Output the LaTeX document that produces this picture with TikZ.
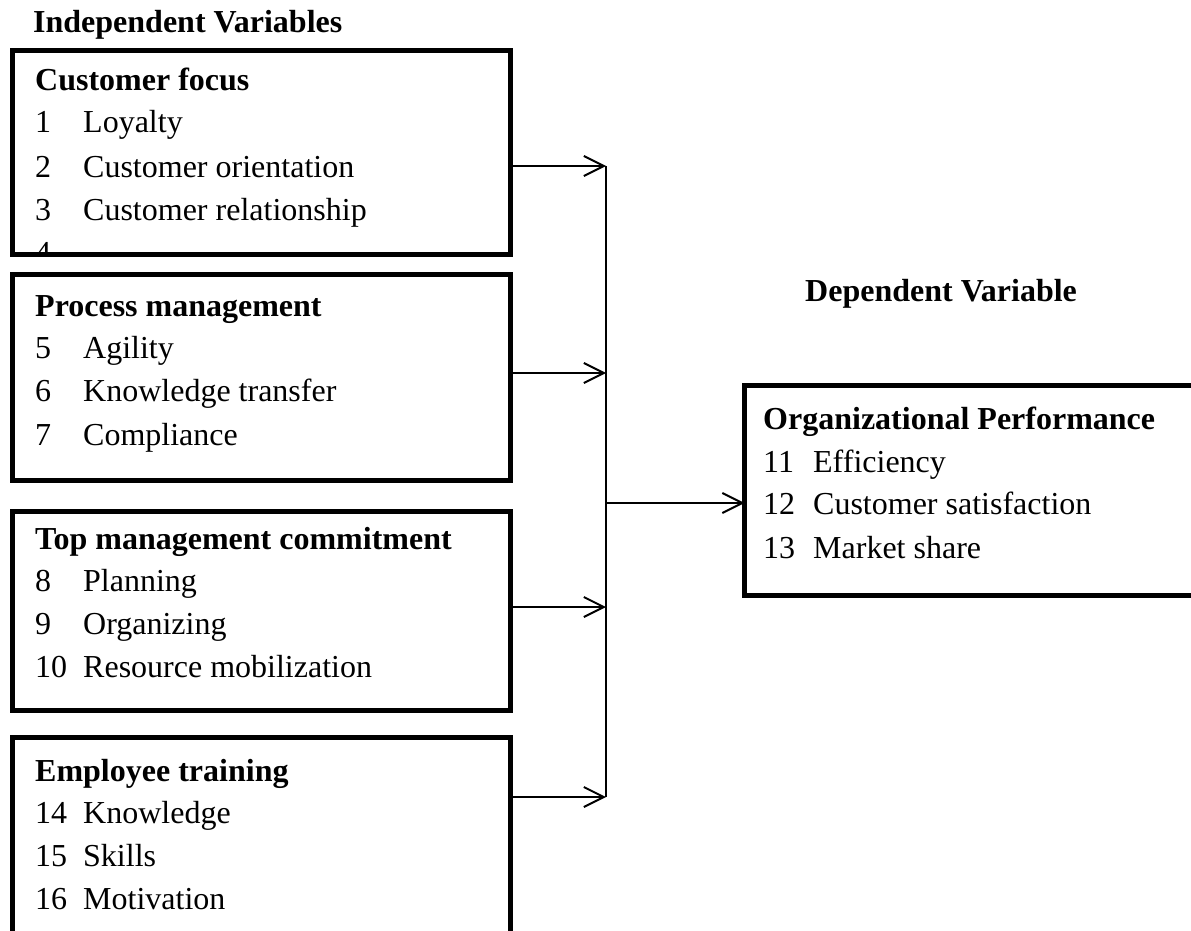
\documentclass[tikz,border=0pt]{standalone}
\usepackage{fontspec}
\setmainfont{Liberation Serif}
\usetikzlibrary{arrows.meta}
\tikzset{
  varbox/.style={draw, line width=5pt, rectangle, inner sep=0pt, outer sep=0pt},
  item/.style={anchor=base west, inner sep=0pt, font=\fontsize{32}{38}\selectfont},
  head/.style={item, font=\fontsize{32}{38}\selectfont\bfseries},
  link/.style={line width=2pt, -{Straight Barb[length=20pt,width=20pt]}},
}
\begin{document}
\begin{tikzpicture}[x=1pt,y=-1pt]
\useasboundingbox (0,0) rectangle (1191,931);
\clip (0,0) rectangle (1191,931);

% the five boxes
\node[varbox, minimum width=498pt, minimum height=204pt] (cf) at (261.5,152.5) {};
\node[varbox, minimum width=498pt, minimum height=206pt] (pm) at (261.5,377.5) {};
\node[varbox, minimum width=498pt, minimum height=199pt] (tm) at (261.5,611) {};
\node[varbox, minimum width=498pt, minimum height=220pt] (et) at (261.5,847.5) {};
\node[varbox, minimum width=473pt, minimum height=210pt] (op) at (981,490.5) {};

% headings
\node[head] (indep) at (33,33) {Independent Variables};
\node[head] (dep) at (805,301) {Dependent Variable};

\node[head] (cf-h) at (35,91) {Customer focus};
\node[item] (cf-1) at (35,133) {\makebox[48pt][l]{1}Loyalty};
\node[item] (cf-2) at (35,177) {\makebox[48pt][l]{2}Customer orientation};
\node[item] (cf-3) at (35,220) {\makebox[48pt][l]{3}Customer relationship};
\begin{scope}
  \clip (cf.north west) rectangle (cf.south east);
  \node[item] (cf-4) at (35,263.5) {4};
\end{scope}

\node[head] (pm-h) at (35,316) {Process management};
\node[item] (pm-1) at (35,358) {\makebox[48pt][l]{5}Agility};
\node[item] (pm-2) at (35,401) {\makebox[48pt][l]{6}Knowledge transfer};
\node[item] (pm-3) at (35,445) {\makebox[48pt][l]{7}Compliance};

\node[head] (tm-h) at (35,549) {Top management commitment};
\node[item] (tm-1) at (35,591) {\makebox[48pt][l]{8}Planning};
\node[item] (tm-2) at (35,634) {\makebox[48pt][l]{9}Organizing};
\node[item] (tm-3) at (35,677) {\makebox[48pt][l]{10}Resource mobilization};

\node[head] (et-h) at (35,781) {Employee training};
\node[item] (et-1) at (35,823) {\makebox[48pt][l]{14}Knowledge};
\node[item] (et-2) at (35,866) {\makebox[48pt][l]{15}Skills};
\node[item] (et-3) at (35,909) {\makebox[48pt][l]{16}Motivation};

\node[head] (op-h) at (763,429) {Organizational Performance};
\node[item] (op-1) at (763,472) {\makebox[50pt][l]{11}Efficiency};
\node[item] (op-2) at (763,514) {\makebox[50pt][l]{12}Customer satisfaction};
\node[item] (op-3) at (763,558) {\makebox[50pt][l]{13}Market share};

% arrows into the collecting line
\coordinate (j1) at (606,166);
\coordinate (j2) at (606,373);
\coordinate (j3) at (606,607);
\coordinate (j4) at (606,797);
\coordinate (jm) at (606,503);
\draw[link] (cf.east |- j1) -- (j1);
\draw[link] (pm.east |- j2) -- (j2);
\draw[link] (tm.east |- j3) -- (j3);
\draw[link] (et.east |- j4) -- (j4);
\draw[line width=2pt] (j1) -- (j4);
\draw[link] (jm) -- (op.west |- jm);
\end{tikzpicture}
\end{document}
